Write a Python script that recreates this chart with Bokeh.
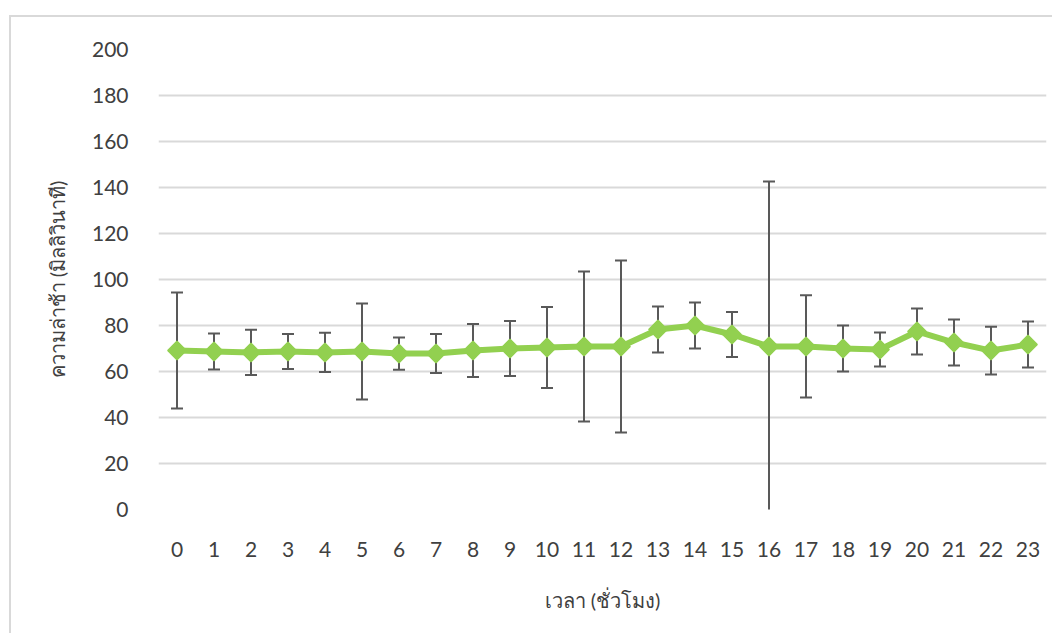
import math
from bokeh.plotting import figure
from bokeh.models import ColumnDataSource, Whisker, FixedTicker
from bokeh.embed import file_html
from bokeh.resources import INLINE

hours = list(range(24))
mean_ms = [69.1, 68.7, 68.3, 68.7, 68.3, 68.7, 67.8, 67.8, 69.1, 70.0, 70.4, 70.9,
           70.9, 78.3, 80.0, 76.1, 70.9, 70.9, 70.0, 69.6, 77.4, 72.6, 69.1, 71.7]
err_ms = [25.2, 7.8, 9.8, 7.6, 8.5, 20.9, 7.0, 8.5, 11.5, 12.0, 17.6, 32.6,
          37.4, 10.0, 10.0, 9.8, 71.7, 22.2, 10.0, 7.4, 10.0, 10.0, 10.4, 10.0]
y_ticks = [0, 20, 40, 60, 80, 100, 120, 140, 160, 180, 200]
x_title = "เวลา (ชั่วโมง)"
y_title = "ความล่าช้า (มิลลิวินาที)"

src = ColumnDataSource(dict(
    x=hours, y=mean_ms,
    upper=[m + e for m, e in zip(mean_ms, err_ms)],
    lower=[m - e for m, e in zip(mean_ms, err_ms)],
))

FONT = "Lato"
p = figure(width=1043, height=618, output_backend="svg", toolbar_location=None,
           x_range=(-0.5, 23.5), y_range=(0, 200),
           min_border_left=147, min_border_right=8, min_border_top=32, min_border_bottom=126)
p.styles = {"margin-top": "15px", "margin-left": "9px",
            "border-top": "2px solid #d9d9d9", "border-left": "2px solid #d9d9d9"}
p.outline_line_color = None
p.background_fill_color = "white"
p.border_fill_color = "white"

w = Whisker(source=src, base="x", upper="upper", lower="lower",
            line_color="#595959", line_width=2)
w.upper_head.size = 12
w.lower_head.size = 12
w.upper_head.line_color = "#595959"
w.lower_head.line_color = "#595959"
w.upper_head.line_width = 2
w.lower_head.line_width = 2
p.add_layout(w)

p.line("x", "y", source=src, line_color="#92D050", line_width=6)
p.scatter("x", "y", source=src, marker="square", size=13, angle=math.pi / 4,
          fill_color="#92D050", line_color="#92D050", line_width=1.5)

p.xgrid.grid_line_color = None
p.ygrid.grid_line_color = "#d9d9d9"
p.ygrid.grid_line_width = 2

p.xaxis.ticker = FixedTicker(ticks=hours)
p.yaxis.ticker = FixedTicker(ticks=y_ticks)
for ax in (p.xaxis, p.yaxis):
    ax.axis_line_color = None
    ax.major_tick_line_color = None
    ax.minor_tick_line_color = None
    ax.major_tick_out = 0
    ax.major_tick_in = 0
    ax.major_label_text_font = FONT
    ax.major_label_text_font_size = "21px"
    ax.major_label_text_color = "#404040"
    ax.axis_label_text_font = FONT
    ax.axis_label_text_font_size = "20px"
    ax.axis_label_text_color = "#404040"
    ax.axis_label_text_font_style = "normal"
p.xaxis.major_label_standoff = 32
p.yaxis.major_label_standoff = 30
p.xaxis.axis_label = x_title
p.yaxis.axis_label = y_title
p.xaxis.axis_label_standoff = 28
p.yaxis.axis_label_standoff = 20

open("out.html", "w").write(file_html(p, INLINE))
